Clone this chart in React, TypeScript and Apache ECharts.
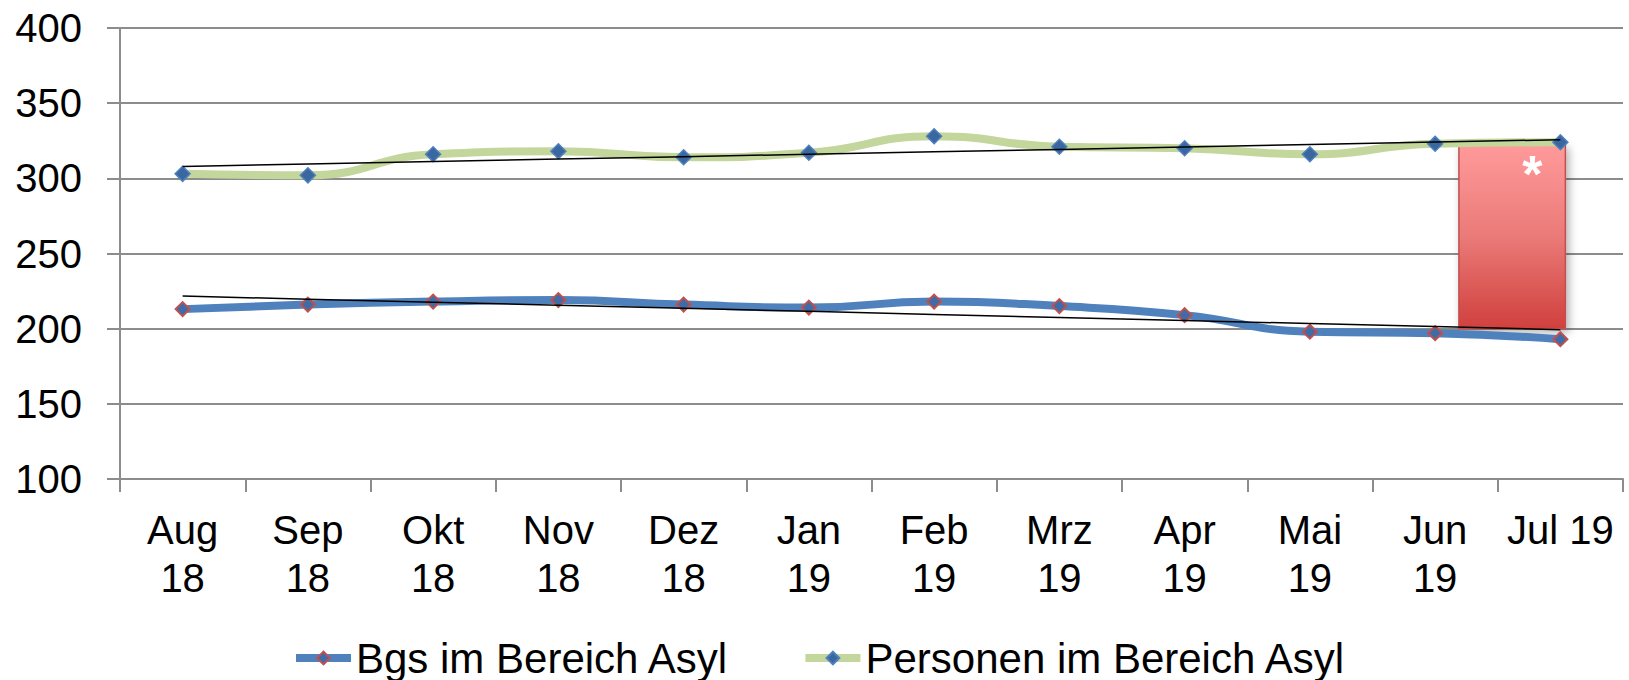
import React, { useEffect, useRef } from "react";
import * as echarts from "echarts";

const categories = [
  "Aug\n18", "Sep\n18", "Okt\n18", "Nov\n18", "Dez\n18", "Jan\n19",
  "Feb\n19", "Mrz\n19", "Apr\n19", "Mai\n19", "Jun\n19", "Jul 19",
];
const bgsValues = [213, 216, 218, 219, 216, 214, 218, 215, 209, 198, 197, 193];
const personenValues = [303, 302, 316, 318, 314, 317, 328, 321, 320, 316, 323, 324];
// highlighted box at the last month: [category index, top value, bottom value]
const highlightBox = [[11, 322, 200]];
const yMin = 100;
const yMax = 400;
const yStep = 50;

function linearTrend(values: number[]): number[] {
  const n = values.length;
  const xm = (n - 1) / 2;
  const ym = values.reduce((a, b) => a + b, 0) / n;
  let sxy = 0;
  let sxx = 0;
  values.forEach((v, i) => {
    sxy += (i - xm) * (v - ym);
    sxx += (i - xm) * (i - xm);
  });
  const slope = sxy / sxx;
  return values.map((_, i) => ym + slope * (i - xm));
}

const FONT = "'Liberation Sans', Arial, sans-serif";

export default function App() {
  const ref = useRef<HTMLDivElement>(null);
  useEffect(() => {
    if (!ref.current) return;
    const chart = echarts.init(ref.current, undefined, { renderer: "svg" });
    const option: any = {
      animation: false,
      backgroundColor: "#ffffff",
      grid: { left: 120, right: 6, top: 28, bottom: 201, containLabel: false },
      legend: {
        data: [
          { name: "Bgs im Bereich Asyl", lineStyle: { width: 8 } },
          { name: "Personen im Bereich Asyl", lineStyle: { width: 8 } },
        ],
        left: 287,
        top: 632,
        itemWidth: 55,
        itemHeight: 16,
        itemGap: 72,
        textStyle: { fontSize: 42, color: "#000", fontFamily: FONT },
      },
      xAxis: {
        type: "category",
        data: categories,
        boundaryGap: true,
        axisLine: { show: true, lineStyle: { color: "#8c8c8c", width: 2 } },
        axisTick: { show: true, length: 13, alignWithLabel: false, lineStyle: { color: "#8c8c8c", width: 2 } },
        axisLabel: {
          interval: 0,
          fontSize: 40,
          lineHeight: 48,
          margin: 27,
          color: "#000",
          fontFamily: FONT,
        },
        splitLine: { show: false },
      },
      yAxis: {
        type: "value",
        min: yMin,
        max: yMax,
        interval: yStep,
        axisLine: { show: true, lineStyle: { color: "#8c8c8c", width: 2 } },
        axisTick: { show: true, length: 13, lineStyle: { color: "#8c8c8c", width: 2 } },
        axisLabel: { fontSize: 40, margin: 38, color: "#000", fontFamily: FONT },
        splitLine: { show: true, lineStyle: { color: "#8c8c8c", width: 2 } },
      },
      series: [
        {
          type: "custom",
          name: "highlight",
          z: 1,
          silent: true,
          data: highlightBox,
          renderItem: (params: any, api: any) => {
            const top = api.coord([api.value(0), api.value(1)]);
            const bottom = api.coord([api.value(0), api.value(2)]);
            const bw = api.size([1, 0])[0];
            const x0 = top[0] - 0.81 * bw;
            const x1 = top[0] + 0.04 * bw;
            return {
              type: "group",
              children: [
                {
                  type: "rect",
                  shape: { x: x0, y: top[1], width: x1 - x0, height: bottom[1] - top[1] },
                  style: {
                    fill: new echarts.graphic.LinearGradient(0, 0, 0, 1, [
                      { offset: 0, color: "#ff9a9a" },
                      { offset: 0.5, color: "#ea7a78" },
                      { offset: 1, color: "#d0403d" },
                    ]),
                    stroke: "#c0504d",
                    lineWidth: 1.5,
                    shadowBlur: 8,
                    shadowOffsetX: 3,
                    shadowOffsetY: 3,
                    shadowColor: "rgba(0,0,0,0.3)",
                  },
                },
                {
                  type: "text",
                  x: x1 - 33,
                  y: top[1] + 29,
                  style: {
                    text: "*",
                    fill: "#ffffff",
                    font: "bold 52px " + FONT,
                    align: "center",
                    verticalAlign: "middle",
                  },
                },
              ],
            };
          },
        },
        {
          name: "Bgs im Bereich Asyl",
          type: "line",
          data: bgsValues,
          smooth: 0.5,
          z: 2,
          symbol: "diamond",
          symbolSize: 14,
          lineStyle: { color: "#4f81bd", width: 8 },
          itemStyle: { color: "#3d6ca8", borderColor: "#c0504d", borderWidth: 2 },
        },
        {
          name: "Personen im Bereich Asyl",
          type: "line",
          data: personenValues,
          smooth: 0.5,
          z: 2,
          symbol: "diamond",
          symbolSize: 15,
          lineStyle: { color: "#c3d69b", width: 8 },
          itemStyle: { color: "#3a67a0", borderColor: "#4f81bd", borderWidth: 1.5 },
        },
        {
          name: "trendBgs",
          type: "line",
          data: linearTrend(bgsValues),
          symbol: "none",
          silent: true,
          z: 4,
          lineStyle: { color: "#000", width: 1.5 },
        },
        {
          name: "trendPersonen",
          type: "line",
          data: linearTrend(personenValues),
          symbol: "none",
          silent: true,
          z: 4,
          lineStyle: { color: "#000", width: 1.5 },
        },
      ],
    };
    chart.setOption(option);
    return () => chart.dispose();
  }, []);
  return (
    <div
      ref={ref}
      style={{ position: "fixed", left: 0, top: 0, width: 1629, height: 680, background: "#fff" }}
    />
  );
}
